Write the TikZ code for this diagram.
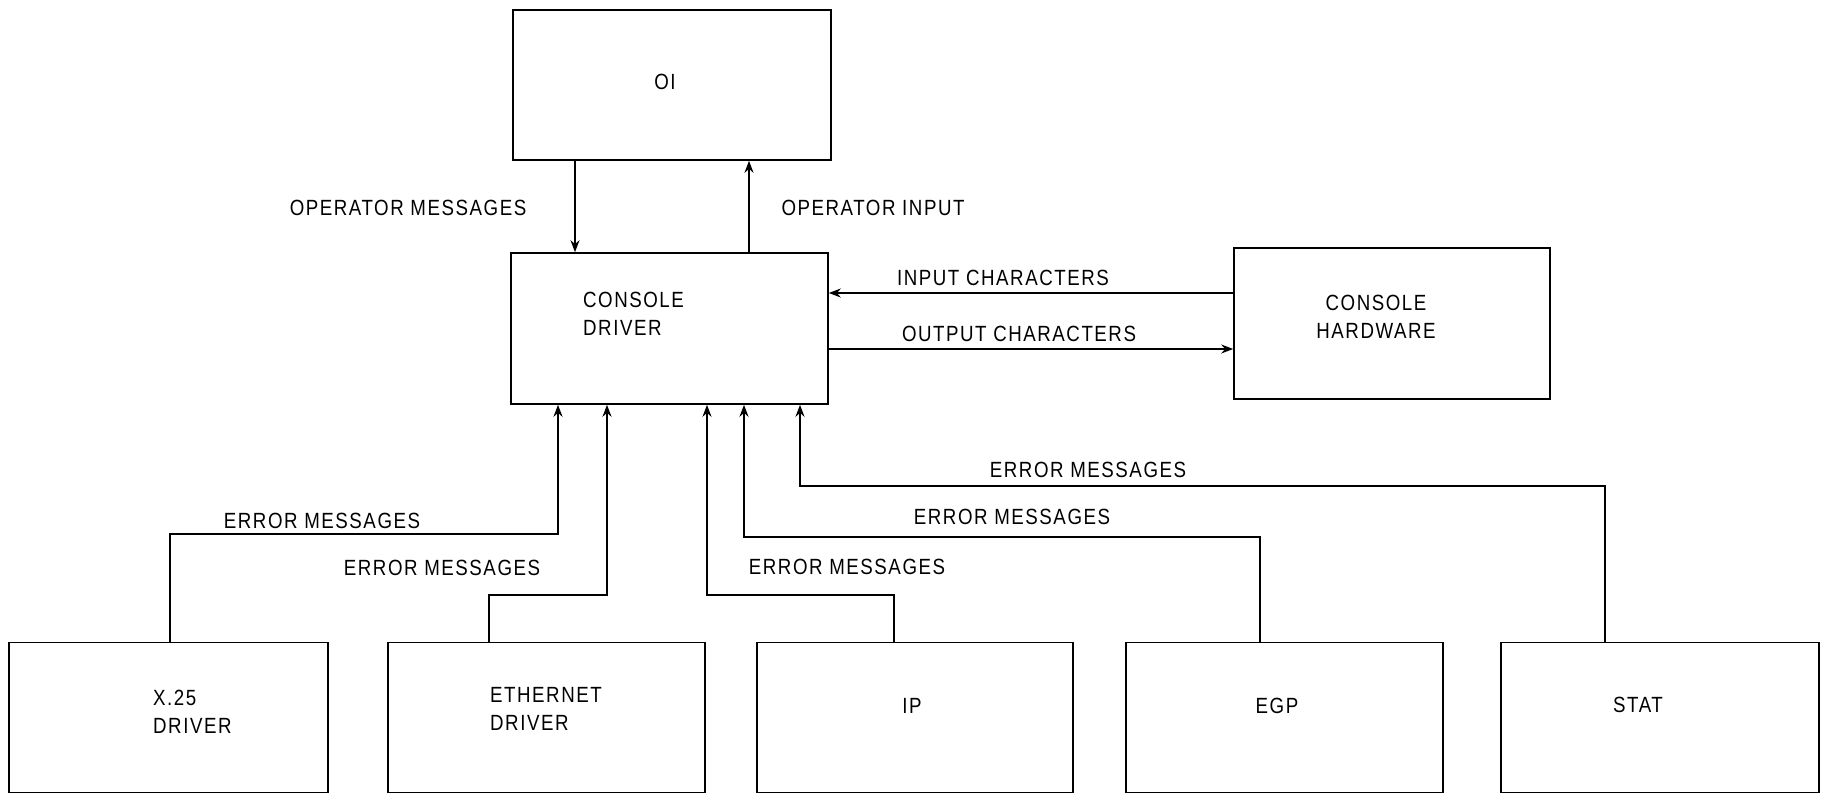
\documentclass[tikz,border=0pt]{standalone}
\usepackage{fontspec}
\setmainfont{Liberation Sans}[FakeStretch=0.85,LetterSpace=7]
\usetikzlibrary{arrows.meta}
\begin{document}
\begin{tikzpicture}[x=1pt,y=-1pt,
  box/.style={draw, line width=1.6pt, inner sep=0pt},
  lbl/.style={font=\fontsize{22}{28}\selectfont, inner sep=0pt},
  arr/.style={line width=1.6pt, -{Stealth[length=12pt,width=9pt]}}]
\useasboundingbox (0,0) rectangle (1829,794);
% boxes
\node[box, minimum width=318pt, minimum height=150pt] (oi) at (672,85) {};
\node[box, minimum width=317pt, minimum height=151pt] (cd) at (669.5,328.5) {};
\node[box, minimum width=316pt, minimum height=151pt] (hw) at (1392,323.5) {};
\node[box, minimum width=319pt, minimum height=150pt] (x25) at (168.5,717.5) {};
\node[box, minimum width=317pt, minimum height=150pt] (eth) at (546.5,717.5) {};
\node[box, minimum width=316pt, minimum height=150pt] (ip) at (915,717.5) {};
\node[box, minimum width=317pt, minimum height=150pt] (egp) at (1284.5,717.5) {};
\node[box, minimum width=318pt, minimum height=150pt] (stat) at (1660,717.5) {};
% box texts
\node[lbl] (toi) at (665,82) {OI};
\node[lbl, anchor=west, align=left] (tcd) at (583,314) {CONSOLE\\DRIVER};
\node[lbl, align=center] (thw) at (1376,317) {CONSOLE\\HARDWARE};
\node[lbl, anchor=west, align=left] (tx25) at (153,712) {X.25\\DRIVER};
\node[lbl, anchor=west, align=left] (teth) at (490,709) {ETHERNET\\DRIVER};
\node[lbl] (tip) at (912,706) {IP};
\node[lbl] (tegp) at (1277,706) {EGP};
\node[lbl] (tstat) at (1638,705) {STAT};
% helper coordinates
\coordinate (a1) at (575,0);
\coordinate (a2) at (749,0);
\coordinate (h1) at (0,293);
\coordinate (h2) at (0,349);
\coordinate (b1) at (170,0);  \coordinate (c1) at (558,534);
\coordinate (b2) at (489,0);  \coordinate (c2) at (607,595);
\coordinate (b3) at (894,0);  \coordinate (c3) at (707,595);
\coordinate (b4) at (1260,0); \coordinate (c4) at (744,537);
\coordinate (b5) at (1605,0); \coordinate (c5) at (800,486);
% connectors
\draw[arr] (oi.south -| a1) -- (cd.north -| a1);
\draw[arr] (cd.north -| a2) -- (oi.south -| a2);
\draw[arr] (hw.west |- h1) -- (cd.east |- h1);
\draw[arr] (cd.east |- h2) -- (hw.west |- h2);
\draw[arr] (x25.north -| b1) |- (c1) -- (cd.south -| c1);
\draw[arr] (eth.north -| b2) |- (c2) -- (cd.south -| c2);
\draw[arr] (ip.north -| b3) |- (c3) -- (cd.south -| c3);
\draw[arr] (egp.north -| b4) |- (c4) -- (cd.south -| c4);
\draw[arr] (stat.north -| b5) |- (c5) -- (cd.south -| c5);
% labels
\node[lbl] (l1) at (408,208) {OPERATOR MESSAGES};
\node[lbl] (l2) at (873,208) {OPERATOR INPUT};
\node[lbl] (l3) at (1003,278) {INPUT CHARACTERS};
\node[lbl] (l4) at (1019,334) {OUTPUT CHARACTERS};
\node[lbl] (l5) at (322,521) {ERROR MESSAGES};
\node[lbl] (l6) at (442,568) {ERROR MESSAGES};
\node[lbl] (l7) at (847,567) {ERROR MESSAGES};
\node[lbl] (l8) at (1012,517) {ERROR MESSAGES};
\node[lbl] (l9) at (1088,470) {ERROR MESSAGES};
\end{tikzpicture}
\end{document}
